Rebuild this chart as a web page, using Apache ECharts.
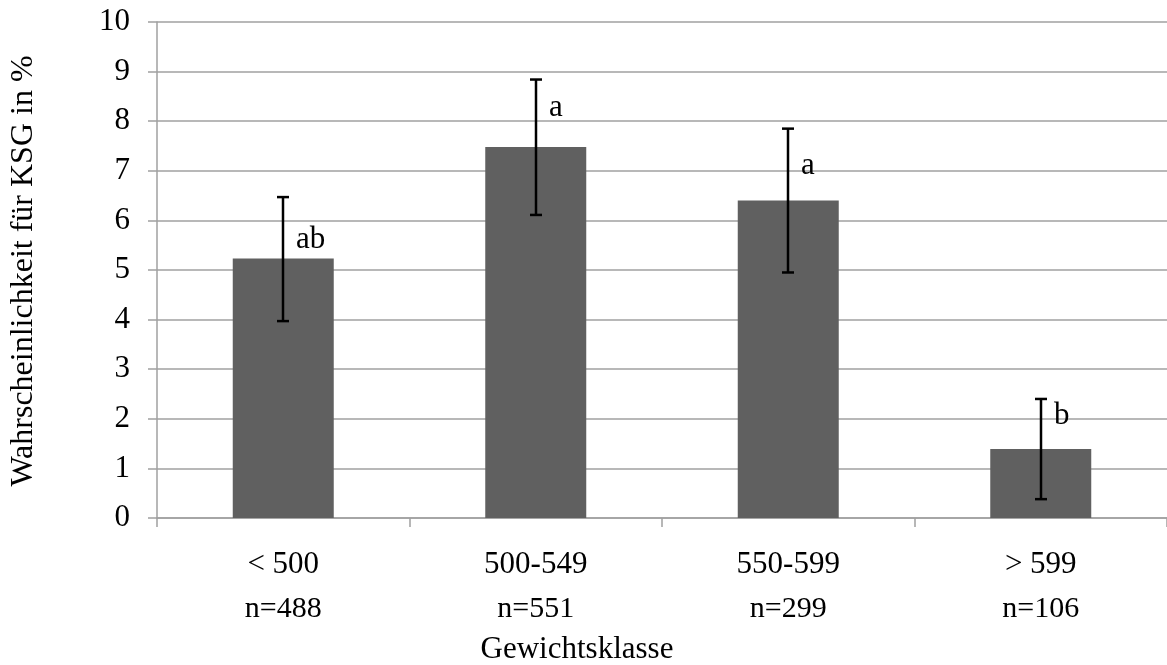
<!DOCTYPE html>
<html>
<head>
<meta charset="utf-8">
<script src="https://cdn.jsdelivr.net/npm/echarts@6/dist/echarts.min.js"></script>
<style>
html,body{margin:0;padding:0;background:#fff;}
#chart{width:1167px;height:665px;}
</style>
</head>
<body>
<div id="chart"></div>
<script>
// ---- data ----
const categories = ['< 500', '500-549', '550-599', '> 599'];
const nCounts = [488, 551, 299, 106];
const means = [5.23, 7.48, 6.40, 1.39];
const errLower = [3.97, 6.11, 4.95, 0.38];
const errUpper = [6.47, 8.84, 7.85, 2.40];
const letters = ['ab', 'a', 'a', 'b'];
const yTicks = [0, 1, 2, 3, 4, 5, 6, 7, 8, 9, 10];
const yTitle = 'Wahrscheinlichkeit für KSG in %';
const xTitle = 'Gewichtsklasse';

// ---- styles ----
const FONT = '"Liberation Serif", "Times New Roman", serif';
const GRID_COLOR = '#a0a0a0';
const letterOffsets = [19, 39, 35, 33]; // px above bar top

const chart = echarts.init(document.getElementById('chart'), null, {renderer: 'canvas'});

const option = {
  backgroundColor: '#ffffff',
  animation: false,
  grid: {left: 157, top: 22, width: 1016, height: 496, containLabel: false},
  xAxis: {
    type: 'category',
    data: categories,
    boundaryGap: true,
    axisLine: {show: true, lineStyle: {color: GRID_COLOR, width: 1.5}},
    axisTick: {show: true, length: 9, alignWithLabel: false, lineStyle: {color: GRID_COLOR, width: 1.5}},
    splitLine: {show: false},
    axisLabel: {
      margin: 25,
      interval: 0,
      formatter: function (v, i) { return '{a|' + v + '}\n{b|n=' + nCounts[i] + '}'; },
      rich: {
        a: {fontFamily: FONT, fontSize: 31, color: '#000', lineHeight: 44},
        b: {fontFamily: FONT, fontSize: 30, color: '#000', lineHeight: 44}
      }
    }
  },
  yAxis: {
    type: 'value',
    min: yTicks[0],
    max: yTicks[yTicks.length - 1],
    interval: 1,
    axisLine: {show: true, lineStyle: {color: GRID_COLOR, width: 1.5}},
    axisTick: {show: true, length: 9, lineStyle: {color: GRID_COLOR, width: 1.5}},
    splitLine: {show: true, lineStyle: {color: GRID_COLOR, width: 1.5}},
    axisLabel: {margin: 27, fontFamily: FONT, fontSize: 31, color: '#000'}
  },
  graphic: [
    {
      type: 'text', x: 24, y: 271, rotation: Math.PI / 2,
      style: {text: yTitle, font: '32px ' + FONT, fill: '#000', textAlign: 'center', textVerticalAlign: 'middle'}
    },
    {
      type: 'text', x: 577, y: 650,
      style: {text: xTitle, font: '31px ' + FONT, fill: '#000', textAlign: 'center', textVerticalAlign: 'middle'}
    }
  ],
  series: [
    {
      type: 'bar',
      data: means,
      barWidth: '40%',
      itemStyle: {color: '#606060'},
      z: 2
    },
    {
      type: 'custom',
      z: 5,
      clip: false,
      data: categories.map(function (c, i) { return [i, errLower[i], errUpper[i], means[i]]; }),
      renderItem: function (params, api) {
        const i = params.dataIndex;
        const lo = api.coord([api.value(0), api.value(1)]);
        const hi = api.coord([api.value(0), api.value(2)]);
        const top = api.coord([api.value(0), api.value(3)]);
        const x = Math.round(hi[0]);
        const cap = 6;
        const ls = {stroke: '#000', lineWidth: 2.5};
        return {
          type: 'group',
          children: [
            {type: 'line', shape: {x1: x, y1: hi[1], x2: x, y2: lo[1]}, style: ls},
            {type: 'line', shape: {x1: x - cap, y1: hi[1], x2: x + cap, y2: hi[1]}, style: ls},
            {type: 'line', shape: {x1: x - cap, y1: lo[1], x2: x + cap, y2: lo[1]}, style: ls},
            {type: 'text', x: x + 13, y: top[1] - letterOffsets[i],
              style: {text: letters[i], font: '31px ' + FONT, fill: '#000', textAlign: 'left', textVerticalAlign: 'middle'}}
          ]
        };
      }
    }
  ]
};
chart.setOption(option);
</script>
</body>
</html>
